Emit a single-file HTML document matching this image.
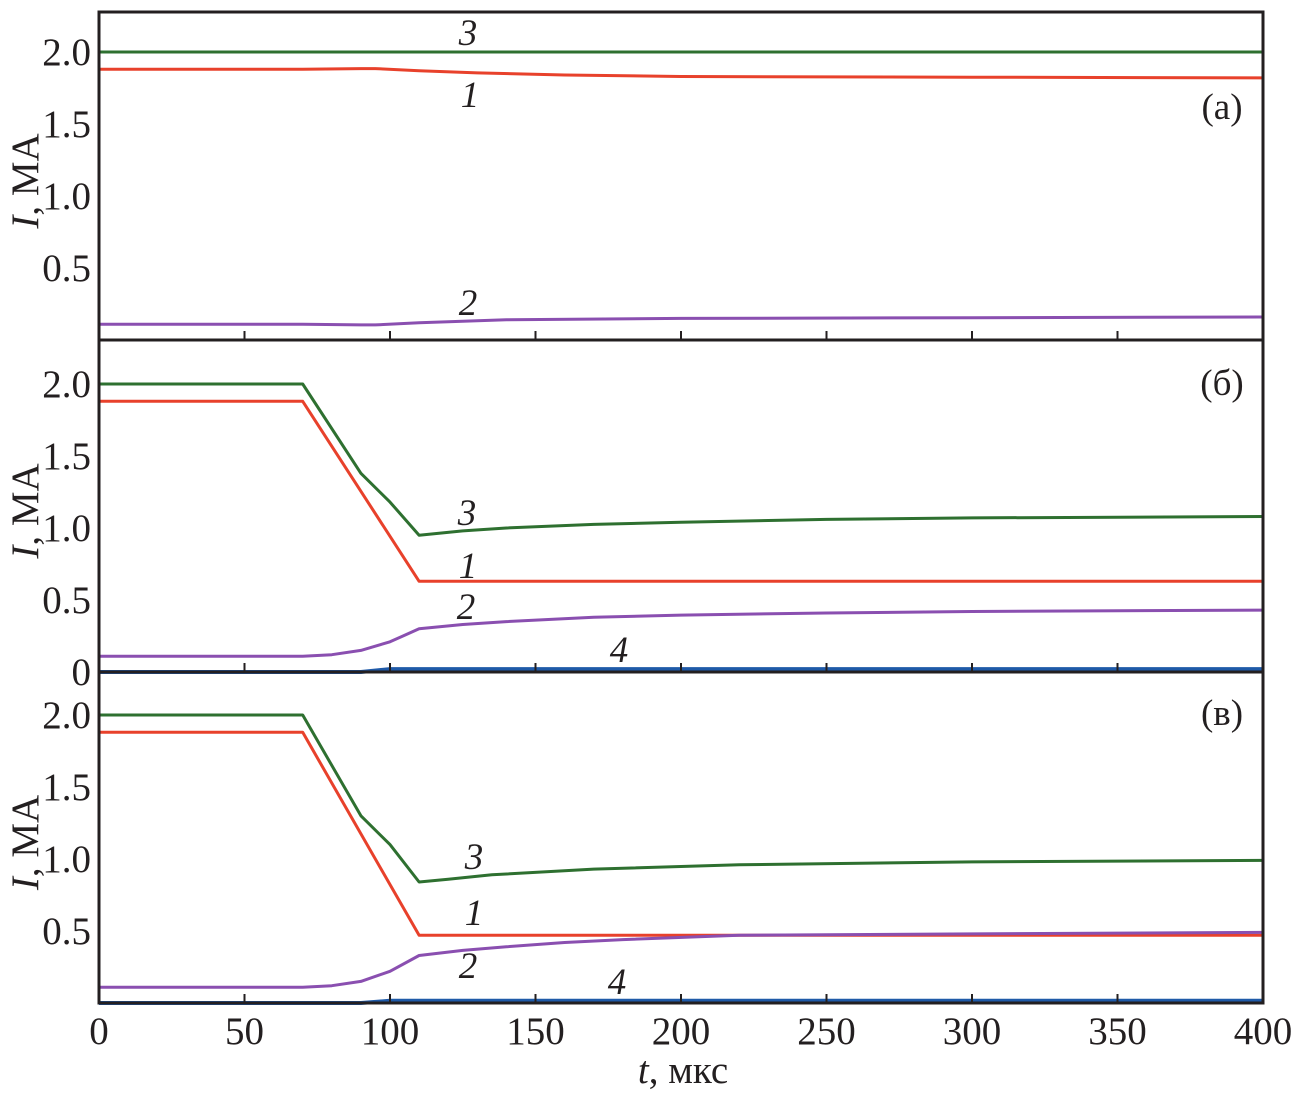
<!DOCTYPE html>
<html><head><meta charset="utf-8"><style>
html,body{margin:0;padding:0;background:#fff;}
svg text{font-family:"Liberation Serif","Times New Roman",serif;fill:#231f20;}
</style></head><body>
<svg id="chart" width="1295" height="1095" viewBox="0 0 1295 1095" xmlns="http://www.w3.org/2000/svg"></svg>
<script>
const xTicks=[0,50,100,150,200,250,300,350,400];
const yTicksA=[0.5,1.0,1.5,2.0];
const yTicksB=[0,0.5,1.0,1.5,2.0];
const yTicksC=[0.5,1.0,1.5,2.0];
const tA1=[0,70,90,95,110,130,160,200,300,400];
const vA1=[1.88,1.88,1.885,1.885,1.87,1.855,1.84,1.83,1.825,1.82];
const tA2=[0,70,90,95,110,140,200,300,400];
const vA2=[0.11,0.11,0.105,0.105,0.12,0.14,0.15,0.155,0.16];
const tA3=[0,400];
const vA3=[2.0,2.0];
const tB1=[0,70,110,400];
const vB1=[1.88,1.88,0.63,0.63];
const tB2=[0,70,80,90,100,110,125,140,170,200,250,300,400];
const vB2=[0.11,0.11,0.12,0.15,0.21,0.3,0.33,0.35,0.38,0.395,0.41,0.42,0.43];
const tB3=[0,70,90,100,110,125,140,170,200,250,300,400];
const vB3=[2.0,2.0,1.38,1.18,0.95,0.98,1.0,1.025,1.04,1.06,1.07,1.08];
const tB4=[0,90,100,400];
const vB4=[0,0,0.02,0.02];
const tC1=[0,70,110,400];
const vC1=[1.88,1.88,0.47,0.47];
const tC2=[0,70,80,90,100,110,125,140,160,180,220,300,400];
const vC2=[0.11,0.11,0.12,0.15,0.22,0.33,0.365,0.39,0.42,0.44,0.47,0.48,0.49];
const tC3=[0,70,90,100,110,120,135,170,220,300,400];
const vC3=[2.0,2.0,1.3,1.1,0.84,0.86,0.89,0.93,0.96,0.98,0.99];
const tC4=[0,90,100,400];
const vC4=[0,0,0.015,0.015];

const NS="http://www.w3.org/2000/svg";
const svg=document.getElementById('chart');
const X0=99,X1=1263;
const PX=(X1-X0)/400, PY=144;
const sx=t=>X0+t*PX;
function mk(tag,attrs,parent){const e=document.createElementNS(NS,tag);for(const k in attrs)e.setAttribute(k,attrs[k]);(parent||svg).appendChild(e);return e;}
const colors={1:'#e8412b',2:'#8a4fb0',3:'#2e7030',4:'#1f5aa8'};
const panels=[
 {id:'a',top:12,bot:340,yt:yTicksA,tag:'(а)',series:[[3,tA3,vA3],[1,tA1,vA1],[2,tA2,vA2]],
  labels:[['3',468,33],['1',470,95],['2',468,303]],tagY:107},
 {id:'b',top:340,bot:672,yt:yTicksB,tag:'(б)',series:[[4,tB4,vB4],[3,tB3,vB3],[1,tB1,vB1],[2,tB2,vB2]],
  labels:[['3',467,513],['1',468,566],['2',466,607],['4',619,650]],tagY:383},
 {id:'c',top:672,bot:1003,yt:yTicksC,tag:'(в)',series:[[4,tC4,vC4],[3,tC3,vC3],[1,tC1,vC1],[2,tC2,vC2]],
  labels:[['3',474,857],['1',474,913],['2',468,966],['4',617,982]],tagY:713}
];
panels.forEach(p=>{
 const g=mk('g',{});
 
 
 const sy=v=>p.bot-v*PY;
 p.series.forEach(([n,ts,vs])=>{
  const d=ts.map((t,i)=>(i?'L':'M')+sx(t).toFixed(1)+','+sy(vs[i]).toFixed(1)).join(' ');
  const path=mk('path',{d:d,fill:'none',stroke:colors[n],'stroke-width':n==4?4:3,'stroke-linejoin':'round'},g);
  
  
 });
 p.labels.forEach(([s,x,y])=>{
  const t=mk('text',{x:x,y:y+12,'font-size':37,'font-style':'italic','text-anchor':'middle'},g);
  t.textContent=s;
  
  
 });
 const tg=mk('text',{x:1222,y:p.tagY+12,'font-size':37,'text-anchor':'middle'},g);
 tg.textContent=p.tag;
 
 
 p.yt.forEach(v=>{
  const t=mk('text',{x:91,y:sy(v)+13,'font-size':39,'text-anchor':'end'},g);
  t.textContent=v===0?'0':v.toFixed(1);
  
  
 });
 xTicks.forEach(v=>{
  if(v===0||v===400)return;
  const l=mk('line',{x1:sx(v),x2:sx(v),y1:p.bot,y2:p.bot-9,stroke:'#231f20','stroke-width':2},g);
  
  
 });
 const r=mk('rect',{x:X0,y:p.top,width:X1-X0,height:p.bot-p.top,fill:'none',stroke:'#231f20','stroke-width':3},g);
 
 
 const yl=mk('text',{transform:`translate(38,${(p.top+p.bot)/2+5}) rotate(-90)`,'font-size':39,'text-anchor':'middle'},g);
 yl.innerHTML='<tspan font-style="italic">I</tspan>, МА';
 
 
});
xTicks.forEach(v=>{
 const t=mk('text',{x:sx(v),y:1044,'font-size':39,'text-anchor':'middle'});
 t.textContent=v;
 
 
});
const xt=mk('text',{x:683,y:1083,'font-size':39,'text-anchor':'middle'});
xt.innerHTML='<tspan font-style="italic">t</tspan>, мкс';


</script>
</body></html>
